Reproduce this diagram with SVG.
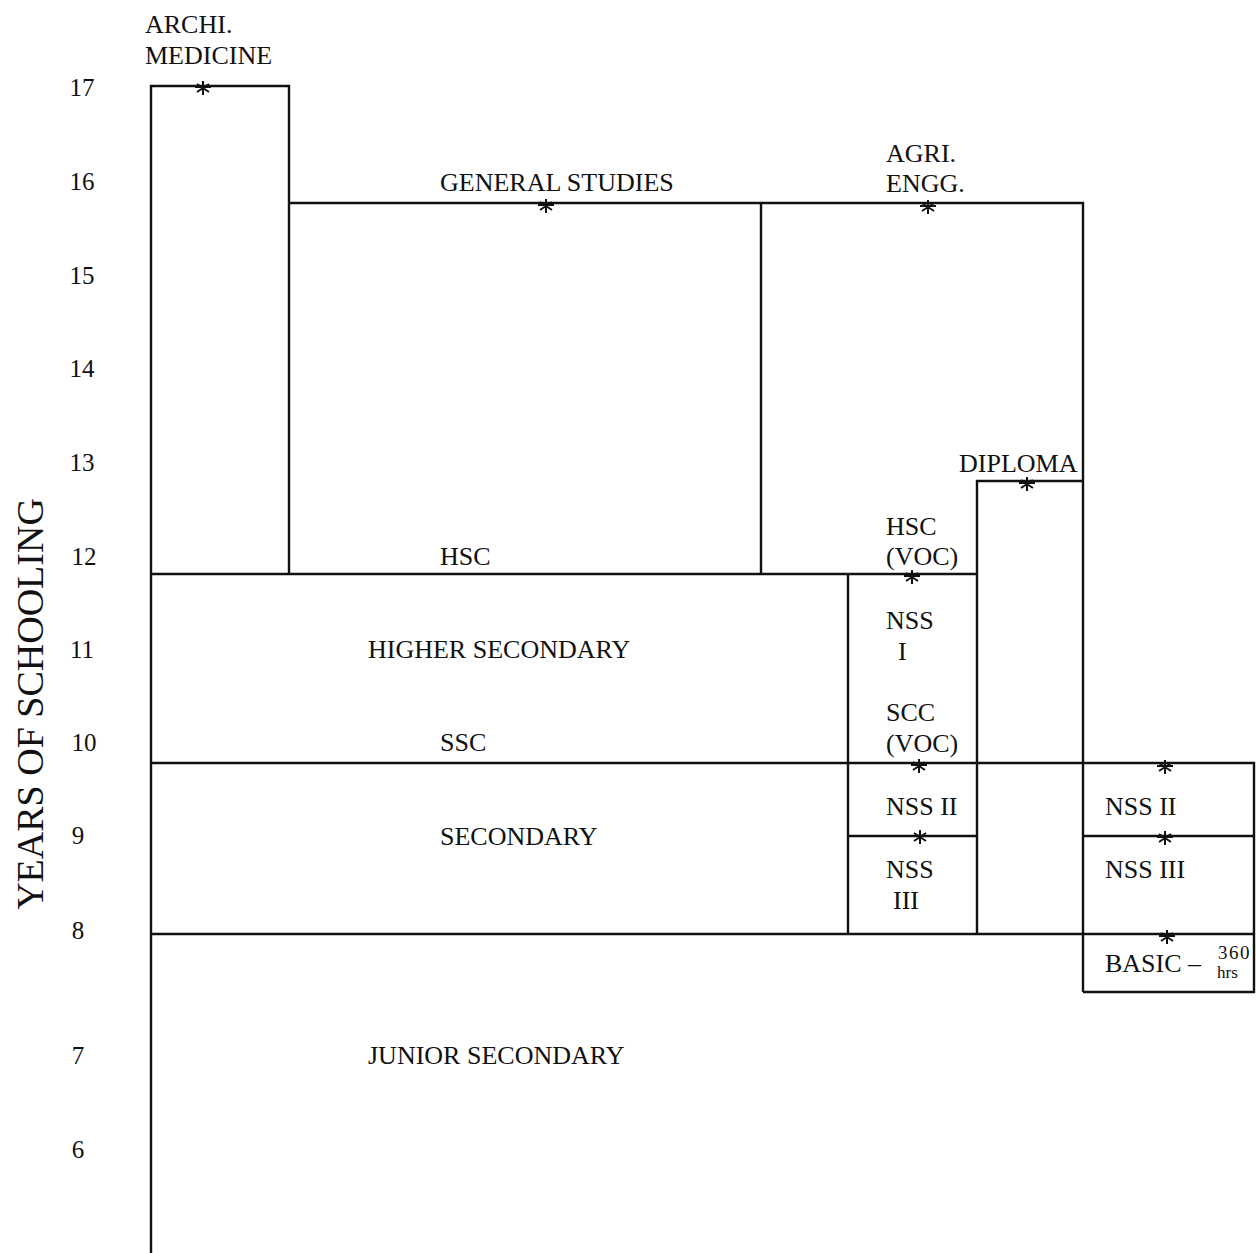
<svg xmlns="http://www.w3.org/2000/svg" width="1256" height="1253" viewBox="0 0 1256 1253">
<style>
.t{font-family:"Liberation Serif","Times New Roman",serif;font-size:26px;fill:#111}
.n{font-family:"Liberation Serif","Times New Roman",serif;font-size:25px;fill:#111;text-anchor:middle}
.l{stroke:#111;stroke-width:2.4;fill:none}
</style>
<defs>
<g id="ast" stroke="#111" stroke-width="2" fill="none">
<path d="M0,-6 V8 M-6,-3 L6,5 M6,-3 L-6,5 M-8,0 H8"/>
</g>
</defs>
<rect width="1256" height="1253" fill="#fff"/>
<g id="axis">
<text class="t" transform="translate(43,704) rotate(-90)" text-anchor="middle" style="font-size:38px">YEARS OF SCHOOLING</text>
<text class="n" x="82" y="96">17</text>
<text class="n" x="82" y="190">16</text>
<text class="n" x="82" y="284">15</text>
<text class="n" x="82" y="377">14</text>
<text class="n" x="82" y="471">13</text>
<text class="n" x="84" y="565">12</text>
<text class="n" x="82" y="658">11</text>
<text class="n" x="84" y="751">10</text>
<text class="n" x="78" y="844">9</text>
<text class="n" x="78" y="939">8</text>
<text class="n" x="78" y="1064">7</text>
<text class="n" x="78" y="1158">6</text>
</g>
<g id="connectors">
<path class="l" d="M151,1253 V86 H289 V574"/>
<path class="l" d="M289,203 H1083 V992"/>
<path class="l" d="M761,203 V574"/>
<path class="l" d="M151,574 H977"/>
<path class="l" d="M848,574 V934"/>
<path class="l" d="M977,934 V481 H1083"/>
<path class="l" d="M151,763 H1254 V992 H1083"/>
<path class="l" d="M848,836 H977"/>
<path class="l" d="M1083,836 H1254"/>
<path class="l" d="M151,934 H1254"/>
</g>
<g id="marks">
<use href="#ast" x="203" y="87"/>
<use href="#ast" x="546" y="205"/>
<use href="#ast" x="928" y="206"/>
<use href="#ast" x="1027" y="483"/>
<use href="#ast" x="912" y="576"/>
<use href="#ast" x="919" y="765"/>
<use href="#ast" x="920" y="836"/>
<use href="#ast" x="1165" y="766"/>
<use href="#ast" x="1165" y="837"/>
<use href="#ast" x="1167" y="936"/>
</g>
<g id="archi"><text class="t" x="145" y="33">ARCHI.</text><text class="t" x="145" y="64">MEDICINE</text></g>
<g id="general"><text class="t" x="440" y="191">GENERAL STUDIES</text></g>
<g id="agri"><text class="t" x="886" y="162">AGRI.</text><text class="t" x="886" y="192">ENGG.</text></g>
<g id="diploma"><text class="t" x="959" y="472">DIPLOMA</text></g>
<g id="hscvoc"><text class="t" x="886" y="535">HSC</text><text class="t" x="886" y="565">(VOC)</text></g>
<g id="hsc"><text class="t" x="440" y="565">HSC</text></g>
<g id="highersec"><text class="t" x="368" y="658">HIGHER SECONDARY</text></g>
<g id="nss1"><text class="t" x="886" y="629">NSS</text><text class="t" x="898" y="660">I</text></g>
<g id="sccvoc"><text class="t" x="886" y="721">SCC</text><text class="t" x="886" y="752">(VOC)</text></g>
<g id="ssc"><text class="t" x="440" y="751">SSC</text></g>
<g id="secondary"><text class="t" x="440" y="845">SECONDARY</text></g>
<g id="nss2a"><text class="t" x="886" y="815">NSS II</text></g>
<g id="nss3a"><text class="t" x="886" y="878">NSS</text><text class="t" x="893" y="909">III</text></g>
<g id="nss2b"><text class="t" x="1105" y="815">NSS II</text></g>
<g id="nss3b"><text class="t" x="1105" y="878">NSS III</text></g>
<g id="basic"><text class="t" x="1105" y="972">BASIC –</text><text class="t" x="1218" y="959" style="font-size:19px;letter-spacing:1.5px">360</text><text class="t" x="1217" y="978" style="font-size:17px">hrs</text></g>
<g id="junior"><text class="t" x="368" y="1064">JUNIOR SECONDARY</text></g>
</svg>
